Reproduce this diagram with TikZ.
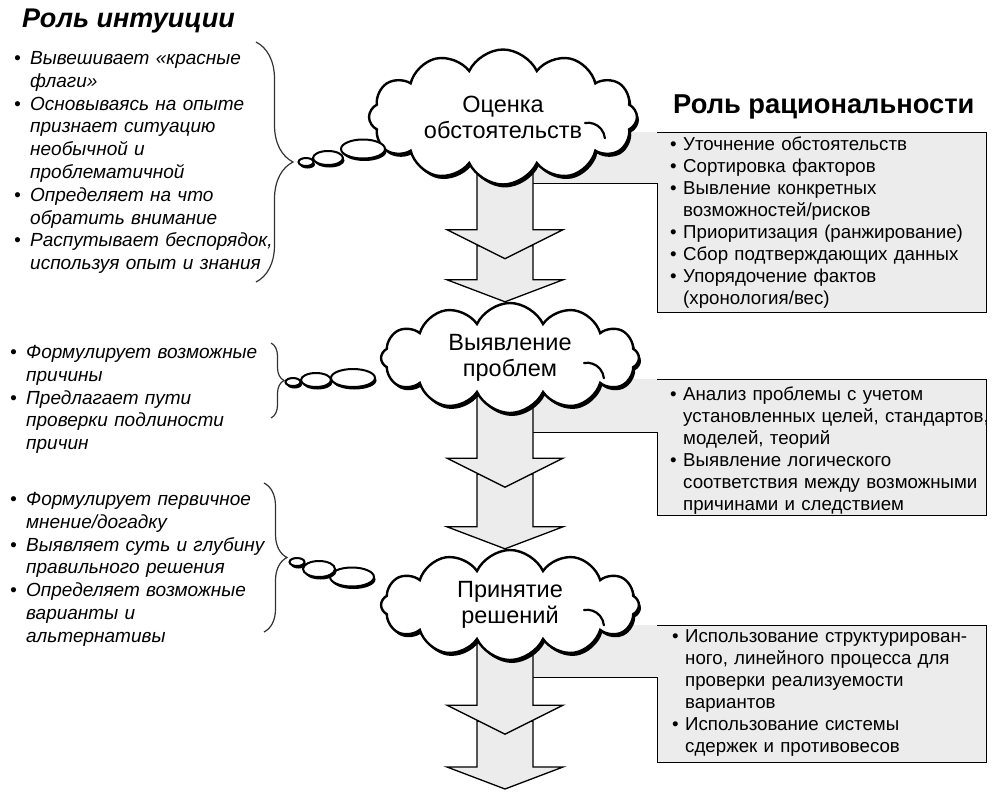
\documentclass[tikz,border=0pt]{standalone}
\usepackage{fontspec}
\setmainfont{Liberation Sans}
\usetikzlibrary{shapes.symbols, shapes.geometric, shadows, decorations.pathreplacing, calc, positioning}

\pgfdeclarelayer{back}
\pgfdeclarelayer{mid}
\pgfsetlayers{back,mid,main}

\newcommand{\bitem}[2][16pt]{\noindent\hangindent=#1\hangafter=1\hbox to #1{\textbullet\hss}#2\par}

% two stacked block arrows from one cloud to the next, along (axis)
\newcommand{\dblarrow}[2]{%
  \draw[blockarrow] let \p1=(#1.south), \p2=(#2), \p3=(axis) in
    (\x3-28pt,\y1-60pt) -- (\x3-28pt,\y2+22pt) -- (\x3-58pt,\y2+22pt) -- (\x3,\y2)
    -- (\x3+58pt,\y2+22pt) -- (\x3+28pt,\y2+22pt) -- (\x3+28pt,\y1-60pt) -- cycle;
  \draw[blockarrow] let \p1=(#1.south), \p3=(axis) in
    (\x3-28pt,\y1+30pt) -- (\x3-28pt,\y1-44pt) -- (\x3-58pt,\y1-44pt) -- (\x3,\y1-73pt)
    -- (\x3+58pt,\y1-44pt) -- (\x3+28pt,\y1-44pt) -- (\x3+28pt,\y1+30pt) -- cycle;
}

\begin{document}
\begin{tikzpicture}[x=1pt, y=1pt]

        % Styles
        \tikzstyle{thought} = [cloud, cloud puffs=12, cloud puff arc=130, aspect=2.2, draw, line width=2.4pt, fill=white, align=center, inner sep=0pt, font=\fontsize{23.5}{26}\selectfont, drop shadow={shadow xshift=2pt, shadow yshift=-3pt, fill=black, opacity=1}]
        \tikzstyle{marks} = [line width=2.2pt, line cap=round]
        \tikzstyle{bubble} = [ellipse, draw, line width=2pt, fill=white, inner sep=0pt, drop shadow={shadow xshift=1.5pt, shadow yshift=-2.5pt, fill=black, opacity=1}]
        \tikzstyle{blockarrow} = [draw, fill=gray!15, line width=1.3pt, line join=miter]
        \tikzstyle{panel} = [fill=gray!15]
        \tikzstyle{frame} = [line width=0.8pt]
        \tikzstyle{curly} = [decorate, line width=1.2pt, black!80]
        \tikzstyle{intlist} = [anchor=base west, inner sep=0pt, text width=300pt, font=\fontsize{19}{22.8}\selectfont\itshape]
        \tikzstyle{ratlist} = [anchor=base west, inner sep=0pt, text width=330pt, font=\fontsize{18.7}{22}\selectfont]

        \useasboundingbox (0,0) rectangle (996,-798);
        \coordinate (axis) at (505,0);

        % Grey panels behind the right-hand lists
        \begin{pgfonlayer}{back}
        \fill[white] (0,0) rectangle (996,-798);
        \fill[panel] (533,-132) -- (986,-132) -- (986,-312) -- (657,-312) -- (657,-183) -- (533,-183) -- cycle;
        \draw[frame] (533,-183) -- (657,-183) -- (657,-312) -- (986,-312) -- (986,-132) -- (657,-132);
        \fill[panel] (533,-379) -- (986,-379) -- (986,-515) -- (657,-515) -- (657,-432) -- (533,-432) -- cycle;
        \draw[frame] (533,-432) -- (657,-432) -- (657,-515) -- (986,-515) -- (986,-379) -- (657,-379);
        \fill[panel] (533,-625) -- (986,-625) -- (986,-762) -- (657,-762) -- (657,-677) -- (533,-677) -- cycle;
        \draw[frame] (533,-677) -- (657,-677) -- (657,-762) -- (986,-762) -- (986,-625) -- (657,-625);
        \end{pgfonlayer}

        % Clouds
        \node[thought, minimum width=268pt, minimum height=112pt] (c1) at (503,-117) {Оценка\\обстоятельств};
        \node[thought, minimum width=258pt, minimum height=110pt] (c2) at (510,-358) {Выявление\\проблем};
        \node[thought, minimum width=258pt, minimum height=110pt] (c3) at (510,-605) {Принятие\\решений};
        \draw[marks] ($(c1)+(82,-6)$) arc[start angle=100, end angle=5, radius=17];
        \draw[marks] ($(c2)+(74,-5)$) arc[start angle=100, end angle=5, radius=17];
        \draw[marks] ($(c3)+(74,-5)$) arc[start angle=100, end angle=5, radius=17];
        \coordinate (end3) at (505,-789);

        % Arrows
        \begin{pgfonlayer}{mid}
        \dblarrow{c1}{c2.north}
        \dblarrow{c2}{c3.north}
        \dblarrow{c3}{end3}
        \end{pgfonlayer}

        % Thought bubbles
        \node[bubble, minimum width=44pt, minimum height=19pt] (b1c) at (363,-149) {};
        \node[bubble, minimum width=30pt, minimum height=14pt] (b1b) at (328,-158) {};
        \node[bubble, minimum width=15pt, minimum height=8pt] (b1a) at (306,-162) {};
        \node[bubble, minimum width=44pt, minimum height=18pt] (b2c) at (353,-378) {};
        \node[bubble, minimum width=30pt, minimum height=14pt] (b2b) at (316,-380) {};
        \node[bubble, minimum width=15pt, minimum height=8pt] (b2a) at (293,-382) {};
        \node[bubble, minimum width=44pt, minimum height=19pt] (b3c) at (352,-577) {};
        \node[bubble, minimum width=32pt, minimum height=16pt] (b3b) at (319,-569) {};
        \node[bubble, minimum width=15pt, minimum height=8pt] (b3a) at (297,-562) {};

        % Braces
        \coordinate (k1t) at (256,-42);
        \coordinate (k1b) at (256,-282);
        \coordinate (k2t) at (271,-343);
        \coordinate (k2b) at (271,-418);
        \coordinate (k3t) at (264,-483);
        \coordinate (k3b) at (264,-632);
        \draw[curly, decoration={brace, amplitude=37pt}] (k1t) -- (k1b);
        \draw[curly, decoration={brace, amplitude=13pt}] (k2t) -- (k2b);
        \draw[curly, decoration={brace, amplitude=23pt}] (k3t) -- (k3b);

        % Titles
        \node[anchor=base west, inner sep=0pt, font=\fontsize{27}{30}\selectfont\bfseries\itshape] (tint) at (22,-27) {Роль интуиции};
        \node[anchor=base west, inner sep=0pt, font=\fontsize{27.3}{30}\selectfont\bfseries] (trat) at (673,-113) {Роль рациональности};

        % Intuition
        \node[intlist] (i1) at (14,-64.5) {\bitem{Вывешивает «красные\newline флаги»}
            \bitem{Основываясь на опыте\newline признает ситуацию\newline необычной и\newline проблематичной}
            \bitem{Определяет на что\newline обратить внимание}
            \bitem{Распутывает беспорядок,\newline используя опыт и знания}};
        \node[intlist] (i2) at (10,-358.5) {\bitem{Формулирует возможные\newline причины}
            \bitem{Предлагает пути\newline проверки подлиности\newline причин}};
        \node[intlist] (i3) at (10,-505.5) {\bitem{Формулирует первичное\newline мнение/догадку}
            \bitem{Выявляет суть и глубину\newline правильного решения}
            \bitem{Определяет возможные\newline варианты и\newline альтернативы}};

        % Rationality
        \node[ratlist] (r1) at (670,-150.5) {\bitem[13pt]{Уточнение обстоятельств}
            \bitem[13pt]{Сортировка факторов}
            \bitem[13pt]{Вывление конкретных\newline возможностей/рисков}
            \bitem[13pt]{Приоритизация (ранжирование)}
            \bitem[13pt]{Сбор подтверждающих данных}
            \bitem[13pt]{Упорядочение фактов\newline (хронология/вес)}};
        \node[ratlist] (r2) at (670,-400.5) {\bitem[13pt]{Анализ проблемы с учетом\newline установленных целей, стандартов,\newline моделей, теорий}
            \bitem[13pt]{Выявление логического\newline соответствия между возможными\newline причинами и следствием}};
        \node[ratlist] (r3) at (672,-642.5) {\bitem[13pt]{Использование структурирован-\newline ного, линейного процесса для\newline проверки реализуемости\newline вариантов}
            \bitem[13pt]{Использование системы\newline сдержек и противовесов}};

    \end{tikzpicture}
\end{document}
